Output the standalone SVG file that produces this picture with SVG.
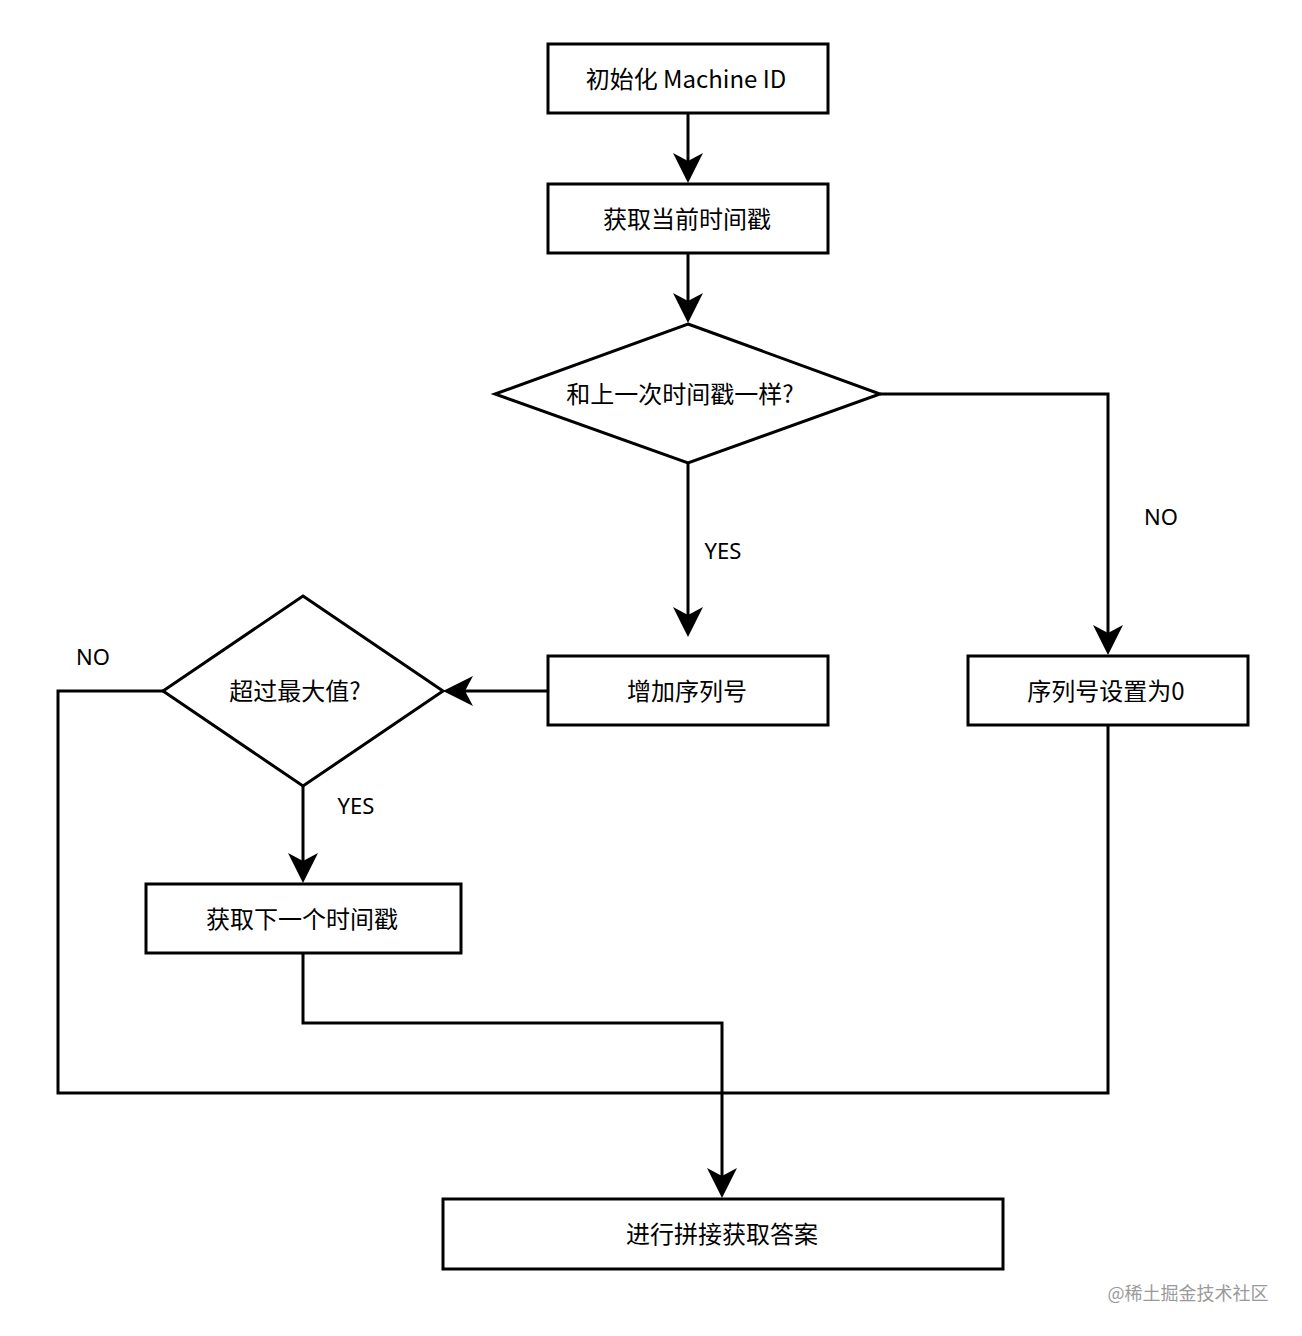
<svg xmlns="http://www.w3.org/2000/svg" width="1302" height="1336" viewBox="0 0 1302 1336">
<style>
.box{fill:#fff;stroke:#000;stroke-width:3}
.t{font-family:"Comic Sans MS","Noto Sans CJK SC","Noto Sans",sans-serif;font-size:24px;fill:#000;text-anchor:middle;dominant-baseline:central}
.lbl{font-family:"Comic Sans MS","Noto Sans","Noto Sans CJK SC",sans-serif;font-size:22px;fill:#000;text-anchor:middle;dominant-baseline:central}
.ln{fill:none;stroke:#000;stroke-width:3}
.wm{font-family:"Noto Sans CJK SC",sans-serif;font-size:18px;fill:#9a9a9a;text-anchor:middle;dominant-baseline:central}
</style>
<defs>
<marker id="ah" viewBox="0 0 30 30" refX="8" refY="15" markerWidth="30" markerHeight="30" markerUnits="userSpaceOnUse" orient="auto">
<path d="M0,0 L30,15 L0,30 L8,15 Z" fill="#000"/>
</marker>
</defs>
<rect width="1302" height="1336" fill="#fff"/>
<g id="connectors">
<path class="ln" d="M688,113 L688,161" marker-end="url(#ah)"/>
<path class="ln" d="M688,253 L688,301" marker-end="url(#ah)"/>
<path class="ln" d="M688,463 L688,615" marker-end="url(#ah)"/>
<path class="ln" d="M880,394 L1108,394 L1108,633" marker-end="url(#ah)"/>
<path class="ln" d="M548,691 L465,691" marker-end="url(#ah)"/>
<path class="ln" d="M303,786 L303,861" marker-end="url(#ah)"/>
<path class="ln" d="M303,953 L303,1023 L722,1023 L722,1176" marker-end="url(#ah)"/>
<path class="ln" d="M163,691 L58,691 L58,1093 L1108,1093 L1108,725"/>
<text class="lbl" x="723" y="550">YES</text>
<text class="lbl" x="1161" y="516">NO</text>
<text class="lbl" x="93" y="656">NO</text>
<text class="lbl" x="356" y="805">YES</text>
</g>
<g id="n1"><rect class="box" x="548" y="44" width="280" height="69"/><text class="t" x="686" y="77">初始化 Machine ID</text></g>
<g id="n2"><rect class="box" x="548" y="184" width="280" height="69"/><text class="t" x="687" y="217">获取当前时间戳</text></g>
<g id="n3"><polygon class="box" points="688,324 880,394 688,463 495,394"/><text class="t" x="680" y="392">和上一次时间戳一样?</text></g>
<g id="n4"><rect class="box" x="548" y="656" width="280" height="69"/><text class="t" x="687" y="689">增加序列号</text></g>
<g id="n5"><rect class="box" x="968" y="656" width="280" height="69"/><text class="t" x="1106" y="689">序列号设置为0</text></g>
<g id="n6"><polygon class="box" points="303,596 443,691 303,786 163,691"/><text class="t" x="295" y="689">超过最大值?</text></g>
<g id="n7"><rect class="box" x="146" y="884" width="315" height="69"/><text class="t" x="302" y="917">获取下一个时间戳</text></g>
<g id="n8"><rect class="box" x="443" y="1199" width="560" height="70"/><text class="t" x="722" y="1232">进行拼接获取答案</text></g>
<text class="wm" x="1188" y="1292">@稀土掘金技术社区</text>
</svg>
